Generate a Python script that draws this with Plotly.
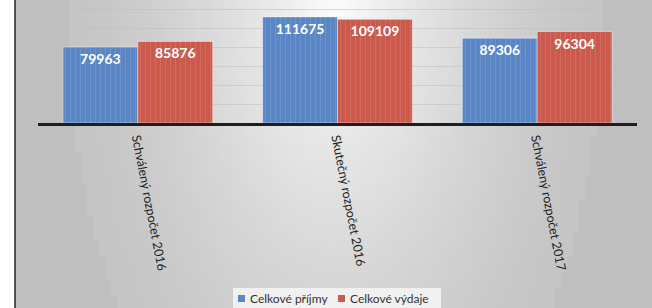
import plotly.graph_objects as go
import math

categories = ["Schválený rozpočet 2016", "Skutečný rozpočet 2016", "Schválený rozpočet 2017"]
prijmy = [79963, 111675, 89306]
vydaje = [85876, 109109, 96304]
series_names = ["Celkové příjmy", "Celkové výdaje"]

W, H = 652, 308
L, R, T, B = 38, 15, 0, 185
PW, PH = W - L - R, H - T - B
BLUE = "#5a86c6"
RED = "#cb5a4d"


def px(x):
    return (x - L) / PW


def py(y):
    return (T + PH - y) / PH


fig = go.Figure()
for name, vals, col in [(series_names[0], prijmy, BLUE), (series_names[1], vydaje, RED)]:
    fig.add_trace(go.Bar(
        x=categories, y=vals, name=name,
        marker=dict(color=col, line=dict(color="rgba(255,255,255,0.45)", width=1),
                    pattern=dict(shape="|", fgcolor="rgba(255,255,255,0.35)",
                                 size=5, solidity=0.12)),
        text=[str(v) for v in vals], textposition="inside", insidetextanchor="end",
        textfont=dict(color="white", size=14, family="Lato", weight="bold"),
        constraintext="none", showlegend=False,
    ))

# background gradient (chart area starts at x=15), elliptical boundary
shapes = []
cw, rh = 6, 8
cxc, cyc, ax, by = 335, 0, 268, 525
x_start = 15
ncols = int(math.ceil((W - x_start) / cw))
nrows = int(math.ceil(H / rh))
for i in range(ncols):
    for j in range(nrows):
        x0 = x_start + i * cw
        x1 = min(W, x0 + cw)
        y0 = j * rh
        y1 = min(H, y0 + rh)
        cx = (x0 + x1) / 2
        cy = (y0 + y1) / 2
        e = math.hypot((cx - cxc) / ax, (cy - cyc) / by)
        if e >= 1:
            g = 191
        else:
            g = int(round(197 + 55 * (1 - e) ** 1.5))
        col = f"rgb({g},{g},{g})"
        shapes.append(dict(type="rect", xref="paper", yref="paper", layer="below",
                           x0=px(x0), x1=px(x1) + 0.0005, y0=py(y1) - 0.001, y1=py(y0),
                           line=dict(width=0), fillcolor=col))

# left border line
shapes.append(dict(type="line", xref="paper", yref="paper", layer="above",
                   x0=px(15), x1=px(15), y0=py(H), y1=py(0),
                   line=dict(color="#222222", width=1.5)))

# custom legend
shapes.append(dict(type="rect", xref="paper", yref="paper", layer="above",
                   x0=px(233), x1=px(441), y0=py(H), y1=py(288),
                   line=dict(width=0), fillcolor="rgba(246,246,246,0.85)"))
annotations = []
leg_items = [(series_names[0], BLUE, 238), (series_names[1], RED, 338)]
for name, col, x in leg_items:
    shapes.append(dict(type="rect", xref="paper", yref="paper", layer="above",
                       x0=px(x), x1=px(x + 7), y0=py(302), y1=py(295),
                       line=dict(width=0), fillcolor=col))
    annotations.append(dict(text=name, xref="paper", yref="paper", showarrow=False,
                            x=px(x + 10), y=py(298.5), xanchor="left", yanchor="middle",
                            font=dict(family="Lato", size=12, color="#333333")))

fig.update_layout(
    width=W, height=H,
    margin=dict(l=L, r=R, t=T, b=B),
    paper_bgcolor="white",
    plot_bgcolor="rgba(0,0,0,0)",
    barmode="group", bargap=0.25, bargroupgap=0,
    shapes=shapes, annotations=annotations,
    font=dict(family="Lato", color="#222222", size=12),
    showlegend=False,
)
fig.update_xaxes(tickangle=79, showline=True, linecolor="#1e1e1e", linewidth=3,
                 ticks="", showgrid=False, tickfont=dict(size=12.5, color="#222222"))
fig.update_yaxes(range=[0, 129474], dtick=20000, showgrid=True,
                 gridcolor="rgba(190,190,190,0.55)", gridwidth=1,
                 showticklabels=False, zeroline=False, showline=False)

fig.write_html("out.html", config={"displayModeBar": False},
               post_script="document.body.style.margin='0px';")
